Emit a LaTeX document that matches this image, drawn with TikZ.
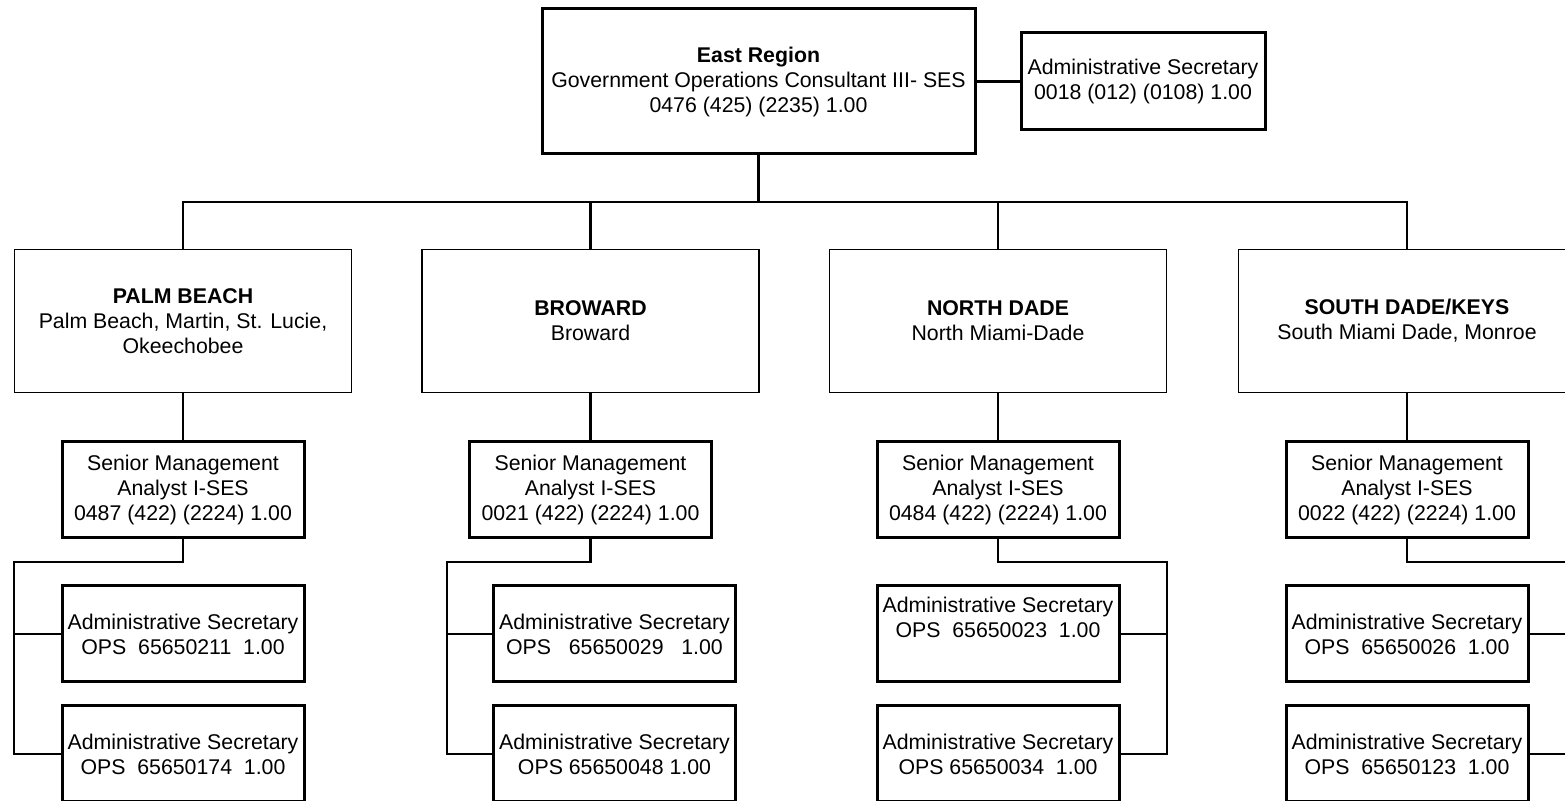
\documentclass[tikz,border=0pt]{standalone}
\usepackage{fontspec}
\setmainfont{Liberation Sans}

\begin{document}
\begin{tikzpicture}[x=0.5pt,y=-0.5pt,
    box/.style={draw,align=center,inner sep=0pt,font=\fontsize{10.65pt}{12.5pt}\selectfont},
    heavy/.style={box,line width=1.5pt},
    light/.style={box,line width=0.7pt},
    link/.style={line width=1.05pt}]

        \useasboundingbox (0,0) rectangle (1565,801);
        \clip (0,0) rectangle (1565,801);

        % region head and its secretary
        \begin{scope}[every node/.style={heavy}]
          \node[minimum width=216.5pt,minimum height=72.5pt] (1) at (758.5,81.5)
            {\textbf{East Region}\\Government Operations Consultant III- SES\\0476 (425) (2235) 1.00};
          \node[minimum width=122pt,minimum height=48.5pt] (2) at (1143,81.5)
            {Administrative Secretary\\0018 (012) (0108) 1.00};
        \end{scope}

        % counties
        \begin{scope}[every node/.style={light,minimum width=168.5pt,minimum height=71.5pt}]
          \node (3) at (183,321)  {\textbf{PALM BEACH}\\Palm Beach, Martin, St. Lucie,\\Okeechobee};
          \node (4) at (590.5,321) {\textbf{BROWARD}\\Broward};
          \node (5) at (998,321)  {\textbf{NORTH DADE}\\North Miami-Dade};
          \node (6) at (1407,321) {\textbf{SOUTH DADE/KEYS}\\South Miami Dade, Monroe};
        \end{scope}

        % analysts and secretaries
        \begin{scope}[every node/.style={heavy,minimum width=121pt,minimum height=48pt}]
          \node (7)  at (183,490)   {Senior Management\\Analyst I-SES\\0487 (422) (2224) 1.00};
          \node (8)  at (590.5,490) {Senior Management\\Analyst I-SES\\0021 (422) (2224) 1.00};
          \node (9)  at (998,490)   {Senior Management\\Analyst I-SES\\0484 (422) (2224) 1.00};
          \node (10) at (1407,490)  {Senior Management\\Analyst I-SES\\0022 (422) (2224) 1.00};
          \node (11) at (183,634)   {Administrative Secretary\\OPS~~65650211~~1.00};
          \node (12) at (614.5,634) {Administrative Secretary\\OPS~~~65650029~~~1.00};
          \node (13) at (998,634)   {Administrative Secretary\\OPS~~65650023~~1.00\\\strut};
          \node (14) at (1407,634)  {Administrative Secretary\\OPS~~65650026~~1.00};
          \node (15) at (183,754)   {Administrative Secretary\\OPS~~65650174~~1.00};
          \node (16) at (614.5,754) {Administrative Secretary\\OPS 65650048 1.00};
          \node (17) at (998,754)   {Administrative Secretary\\OPS 65650034~~1.00};
          \node (18) at (1407,754)  {Administrative Secretary\\OPS~~65650123~~1.00};
        \end{scope}

        \coordinate (b) at (758.5,202);
        \coordinate (p) at (14,562);
        \coordinate (q) at (447,562);
        \coordinate (r) at (1167,562);
        \coordinate (s) at (1575,562);

        \begin{scope}[link]
          \draw (1) -- (2);
          \draw (1) -- (b);
          \draw (3) |- (b) -| (6);
          \draw (4) -- (4 |- b);
          \draw (5) -- (5 |- b);
          \draw (3) -- (7);
          \draw (4) -- (8);
          \draw (5) -- (9);
          \draw (6) -- (10);
          \draw (7) |- (p) |- (11);
          \draw (p) |- (15);
          \draw (8) |- (q) |- (12);
          \draw (q) |- (16);
          \draw (9) |- (r) |- (13);
          \draw (r) |- (17);
          \draw (10) |- (s) |- (14);
          \draw (s) |- (18);
        \end{scope}

      \end{tikzpicture}
\end{document}
